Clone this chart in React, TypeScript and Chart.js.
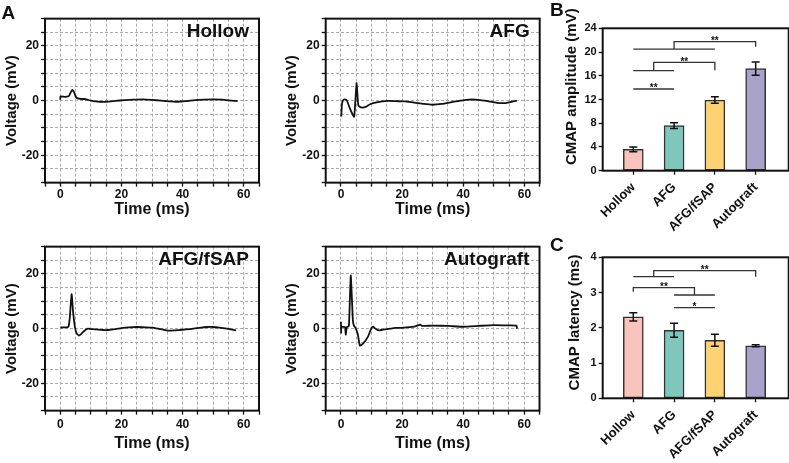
import React, { useEffect, useRef } from 'react';
import { Chart, registerables } from 'chart.js';

Chart.register(...registerables);

const FONT = '"Liberation Sans", Arial, Helvetica, sans-serif';
const INK = '#111111';

// ---------- Panel A: CMAP traces (time in ms, voltage in mV) ----------
const hollowTime = [0, 0.05, 1.5, 2.7, 3.0, 3.5, 4.0, 4.5, 5.2, 6, 7, 8, 9, 10, 11.5, 13, 15, 18, 21, 24, 27, 30, 33, 36, 38, 41, 44, 47, 50, 53, 56, 58];
const hollowVoltage = [0.3, 1.5, 1.4, 1.6, 2.0, 3.2, 3.9, 3.1, 1.2, 0.7, 0.6, 0.6, 0.3, 0, -0.3, -0.4, -0.4, -0.1, 0.2, 0.4, 0.5, 0.3, 0, -0.3, -0.4, -0.2, 0.2, 0.4, 0.5, 0.4, 0, -0.2];

const afgTime = [0.1, 0.3, 0.6, 1.1, 1.9, 2.9, 3.8, 4.3, 4.6, 5.1, 5.4, 5.7, 6.7, 8.1, 9.5, 11.6, 15.4, 18, 21, 24, 27, 30, 33, 36, 39, 42, 45, 48, 51, 54, 56, 57.5];
const afgVoltage = [-5.8, -1.5, 0, 0.5, 0.1, -2.8, -5.0, -5.9, -2.0, 6.4, 2.0, -1.8, -2.5, -2.3, -1.3, -0.6, -0.1, -0.2, -0.3, -0.7, -1.2, -1.5, -1.2, -0.6, 0, 0.4, 0.3, -0.2, -0.8, -0.9, -0.4, 0];

const fsapTime = [0, 1, 2.1, 2.7, 3.1, 3.7, 4.2, 4.8, 5.4, 6.1, 6.8, 7.5, 8.3, 9.1, 10.5, 11.8, 14, 15.6, 18, 20, 22.5, 25, 28, 30, 32, 35, 37.5, 40, 43, 46, 48, 50, 52, 55, 57.5];
const fsapVoltage = [0.4, 0.5, 0.5, 0.8, 4.0, 12.6, 6.0, 0.5, -1.8, -2.5, -2.0, -1.2, -0.4, 0, -0.2, -0.3, -0.5, -0.5, -0.2, 0.2, 0.5, 0.6, 0.5, 0.4, 0, -0.7, -0.6, -0.4, -0.1, 0.4, 0.6, 0.6, 0.4, -0.1, -0.6];

const autoTime = [0, 0.05, 0.1, 1.3, 1.4, 1.6, 1.9, 2.6, 3.2, 3.9, 4.2, 4.8, 5.5, 6.2, 7.2, 8.9, 10.0, 10.5, 11.5, 12.7, 15, 18, 20, 24, 26, 26.5, 30, 35, 40, 45, 50, 55, 57.5, 57.6];
const autoVoltage = [2.5, -1.5, 0.6, 0.6, 0.0, -2.2, 0.5, 1.0, 19.5, 3.0, 1.2, 0.2, -2.0, -6.2, -5.5, -2.8, 0.3, 0.7, -0.2, -0.6, -0.2, 0.3, 0.3, 0.7, 1.5, 1.0, 1.1, 1.0, 0.7, 1.0, 1.3, 1.2, 1.1, 0];

const timeTickLabels = [0, 20, 40, 60];
const voltageTickLabels = [-20, 0, 20];

// ---------- Panels B & C: bar charts ----------
const groups = ['Hollow', 'AFG', 'AFG/fSAP', 'Autograft'];
const groupColors = ['#F8C3BB', '#80C7BB', '#FDD272', '#A9A2CA'];

const amplitudeMean = [3.6, 7.6, 11.9, 17.2];
const amplitudeError = [0.4, 0.5, 0.55, 1.1];

const latencyMean = [2.31, 1.93, 1.645, 1.49];
const latencyError = [0.12, 0.2, 0.17, 0.03];

// significance brackets: [leftIndex, rightIndex, topValue, leftDropValue, rightDropValue, label]
const amplitudeBrackets: [number, number, number, number, number, string][] = [
  [0, 1, 13.77, 13.77, 13.77, '**'],
  [0.5, 2, 18.27, 16.85, 16.95, '**'],
  [1, 3, 21.75, 20.5, 20.9, '**'],
];
// group lines: [fromIndex, toIndex, value]
const amplitudeGroupLines: [number, number, number][] = [
  [0, 1, 16.85],
  [0, 2, 20.5],
];
const latencyBrackets: [number, number, number, number, number, string][] = [
  [1, 2, 2.57, 2.57, 2.57, '*'],
  [0, 1.5, 3.14, 3.02, 2.93, '**'],
  [0.5, 3, 3.62, 3.45, 3.45, '**'],
];
const latencyGroupLines: [number, number, number][] = [
  [1, 2, 2.93],
  [0, 1, 3.45],
];

// ---------- plugins ----------
const framePlugin = {
  id: 'frame',
  afterDraw(chart: any) {
    const { ctx, chartArea: a } = chart;
    ctx.save();
    ctx.strokeStyle = INK;
    ctx.lineWidth = 2;
    ctx.strokeRect(a.left, a.top, a.right - a.left, a.bottom - a.top);
    ctx.restore();
  },
};

function makeTitlePlugin(text: string) {
  return {
    id: 'panelTitle',
    afterDraw(chart: any) {
      const { ctx, chartArea: a } = chart;
      ctx.save();
      ctx.font = `bold 19px ${FONT}`;
      ctx.fillStyle = INK;
      ctx.textAlign = 'right';
      ctx.textBaseline = 'alphabetic';
      ctx.fillText(text, a.right - 10, a.top + 18.5);
      ctx.restore();
    },
  };
}

function makeBarPlugin(
  means: number[],
  errors: number[],
  brackets: [number, number, number, number, number, string][],
  groupLines: [number, number, number][],
  yTitle: string,
  yTitleX: number,
  yTitleY: number
) {
  return {
    id: 'barExtras',
    afterDatasetsDraw(chart: any) {
      const { ctx } = chart;
      const xs = chart.scales.x;
      const ys = chart.scales.y;
      ctx.save();
      ctx.strokeStyle = INK;
      ctx.lineWidth = 1.5;
      means.forEach((m, i) => {
        const x = xs.getPixelForValue(i);
        const y1 = ys.getPixelForValue(m + errors[i]);
        const y2 = ys.getPixelForValue(m - errors[i]);
        ctx.beginPath();
        ctx.moveTo(x, y1);
        ctx.lineTo(x, y2);
        ctx.moveTo(x - 4, y1);
        ctx.lineTo(x + 4, y1);
        ctx.moveTo(x - 4, y2);
        ctx.lineTo(x + 4, y2);
        ctx.stroke();
      });
      ctx.strokeStyle = '#333';
      ctx.lineWidth = 1.3;
      groupLines.forEach(([a, b, v]) => {
        ctx.beginPath();
        ctx.moveTo(xs.getPixelForValue(a), ys.getPixelForValue(v));
        ctx.lineTo(xs.getPixelForValue(b), ys.getPixelForValue(v));
        ctx.stroke();
      });
      ctx.fillStyle = INK;
      ctx.font = `bold 10px ${FONT}`;
      ctx.textAlign = 'center';
      ctx.textBaseline = 'alphabetic';
      brackets.forEach(([l, r, top, ld, rd, label]) => {
        const xl = xs.getPixelForValue(l);
        const xr = xs.getPixelForValue(r);
        const yt = ys.getPixelForValue(top);
        ctx.beginPath();
        ctx.moveTo(xl, ys.getPixelForValue(ld));
        ctx.lineTo(xl, yt);
        ctx.lineTo(xr, yt);
        ctx.lineTo(xr, ys.getPixelForValue(rd));
        ctx.stroke();
        ctx.fillText(label, xs.getPixelForValue((l + r) / 2), yt + 2.5);
      });
      ctx.restore();
    },
    afterDraw(chart: any) {
      const { ctx } = chart;
      ctx.save();
      ctx.translate(yTitleX, yTitleY);
      ctx.rotate(-Math.PI / 2);
      ctx.font = `bold 15px ${FONT}`;
      ctx.fillStyle = INK;
      ctx.textAlign = 'center';
      ctx.textBaseline = 'middle';
      ctx.fillText(yTitle, 0, 0);
      ctx.restore();
    },
  };
}

// ---------- generic canvas holder ----------
function ChartBox({ left, top, width, height, build }: any) {
  const ref = useRef<HTMLCanvasElement>(null);
  useEffect(() => {
    const chart = new Chart(ref.current as HTMLCanvasElement, build());
    return () => chart.destroy();
  }, []);
  return (
    <canvas
      ref={ref}
      width={width}
      height={height}
      style={{ position: 'absolute', left, top, width, height }}
    />
  );
}

function traceConfig(
  time: number[],
  voltage: number[],
  title: string,
  yWidth: number,
  xHeight: number,
  padTop: number,
  padRight: number,
  xTickPad: number,
  yTitlePad: number
) {
  const tickFont = { family: FONT, size: 12, weight: 'bold' as const };
  return {
    type: 'line' as const,
    data: {
      datasets: [
        {
          data: time.map((t, i) => ({ x: t, y: voltage[i] })),
          borderColor: INK,
          borderWidth: 1.8,
          pointRadius: 0,
          tension: 0.15,
          fill: false,
        },
      ],
    },
    options: {
      animation: false,
      responsive: false,
      devicePixelRatio: 1,
      layout: { padding: { left: 0, top: padTop, right: padRight, bottom: 0 } },
      plugins: { legend: { display: false }, tooltip: { enabled: false } },
      scales: {
        x: {
          type: 'linear',
          min: -5,
          max: 65,
          ticks: {
            stepSize: 5,
            maxTicksLimit: 100,
            autoSkip: false,
            maxRotation: 0,
            minRotation: 0,
            padding: xTickPad,
            color: INK,
            font: tickFont,
            callback: (v: any) => (timeTickLabels.includes(Number(v)) ? String(v) : ''),
          },
          grid: { color: '#ababab', lineWidth: 1, tickColor: INK, tickLength: 4, tickWidth: 1.3 },
          border: { display: false, dash: [3, 2] },
          title: {
            display: true,
            text: 'Time (ms)',
            color: INK,
            font: { family: FONT, size: 16, weight: 'bold' },
            padding: { top: 0, bottom: 4 },
          },
          afterFit: (s: any) => {
            s.height = xHeight;
          },
        },
        y: {
          type: 'linear',
          min: -30,
          max: 30,
          ticks: {
            stepSize: 5,
            maxTicksLimit: 100,
            autoSkip: false,
            padding: 2,
            color: INK,
            font: tickFont,
            callback: (v: any) => (voltageTickLabels.includes(Number(v)) ? String(v) : ''),
          },
          grid: { color: '#ababab', lineWidth: 1, tickColor: INK, tickLength: 4, tickWidth: 1.3 },
          border: { display: false, dash: [3, 2] },
          title: {
            display: true,
            text: 'Voltage (mV)',
            color: INK,
            font: { family: FONT, size: 15, weight: 'bold' },
            padding: { top: yTitlePad, bottom: 0 },
          },
          afterFit: (s: any) => {
            s.width = yWidth;
          },
        },
      },
    },
    plugins: [framePlugin, makeTitlePlugin(title)],
  };
}

function barConfig(
  means: number[],
  errors: number[],
  brackets: [number, number, number, number, number, string][],
  groupLines: [number, number, number][],
  yMax: number,
  yStep: number,
  yTitle: string,
  yTitleX: number,
  yTitleY: number,
  padTop: number,
  xHeight: number
) {
  return {
    type: 'bar' as const,
    data: {
      datasets: [
        {
          data: means.map((m, i) => ({ x: i, y: m })),
          backgroundColor: groupColors,
          borderColor: '#333',
          borderWidth: 1.5,
          borderSkipped: false,
          barThickness: 20,
        },
      ],
    },
    options: {
      animation: false,
      responsive: false,
      devicePixelRatio: 1,
      layout: { padding: { left: 0, top: padTop, right: 0.3, bottom: 0 } },
      plugins: { legend: { display: false }, tooltip: { enabled: false } },
      scales: {
        x: {
          type: 'linear',
          offset: false,
          min: -0.75,
          max: 3.81,
          afterBuildTicks: (s: any) => {
            s.ticks = groups.map((_, i) => ({ value: i }));
          },
          ticks: {
            autoSkip: false,
            minRotation: 45,
            maxRotation: 45,
            padding: 5,
            color: INK,
            font: { family: FONT, size: 13, weight: 'bold' },
            callback: (v: any) => groups[Math.round(Number(v))],
          },
          grid: { offset: false, drawOnChartArea: false, tickColor: INK, tickLength: 4, tickWidth: 1.3 },
          border: { display: false },
          afterFit: (s: any) => {
            s.height = xHeight;
          },
        },
        y: {
          type: 'linear',
          min: 0,
          max: yMax,
          ticks: {
            stepSize: yStep,
            autoSkip: false,
            padding: 2,
            color: INK,
            font: { family: FONT, size: 11, weight: 'bold' },
          },
          grid: { drawOnChartArea: false, tickColor: INK, tickLength: 4, tickWidth: 1.3 },
          border: { display: false },
          afterFit: (s: any) => {
            s.width = 42.7;
          },
        },
      },
    },
    plugins: [framePlugin, makeBarPlugin(means, errors, brackets, groupLines, yTitle, yTitleX, yTitleY)],
  };
}

const letterStyle = (left: number, top: number): React.CSSProperties => ({
  position: 'absolute',
  left,
  top,
  font: `bold 19px/19px ${FONT}`,
  color: INK,
});

export default function App() {
  return (
    <div
      style={{
        position: 'fixed',
        left: 0,
        top: 0,
        width: 789,
        height: 463,
        background: '#fff',
        overflow: 'hidden',
      }}
    >
      <ChartBox left={0} top={0} width={262} height={223}
        build={() => traceConfig(hollowTime, hollowVoltage, 'Hollow', 45, 40.35, 18.65, 3, 1, 3)} />
      <ChartBox left={280} top={0} width={262} height={223}
        build={() => traceConfig(afgTime, afgVoltage, 'AFG', 45.7, 40.35, 18.65, 2.3, 1, 2.7)} />
      <ChartBox left={0} top={228} width={262} height={229}
        build={() => traceConfig(fsapTime, fsapVoltage, 'AFG/fSAP', 45, 46.35, 18.65, 3, 2.5, 3)} />
      <ChartBox left={280} top={228} width={262} height={229}
        build={() => traceConfig(autoTime, autoVoltage, 'Autograft', 45.7, 46.35, 18.65, 2.3, 2.5, 2.7)} />
      <ChartBox left={560} top={0} width={229} height={232}
        build={() => barConfig(amplitudeMean, amplitudeError, amplitudeBrackets, amplitudeGroupLines, 24, 4,
          'CMAP amplitude (mV)', 11.7, 86.7, 28.3, 61.3)} />
      <ChartBox left={560} top={232} width={229} height={231}
        build={() => barConfig(latencyMean, latencyError, latencyBrackets, latencyGroupLines, 4, 1,
          'CMAP latency (ms)', 15, 90.5, 25.3, 64.7)} />
      <div style={letterStyle(1.5, 2.5)}>A</div>
      <div style={letterStyle(550, -0.5)}>B</div>
      <div style={letterStyle(550, 234.5)}>C</div>
    </div>
  );
}
